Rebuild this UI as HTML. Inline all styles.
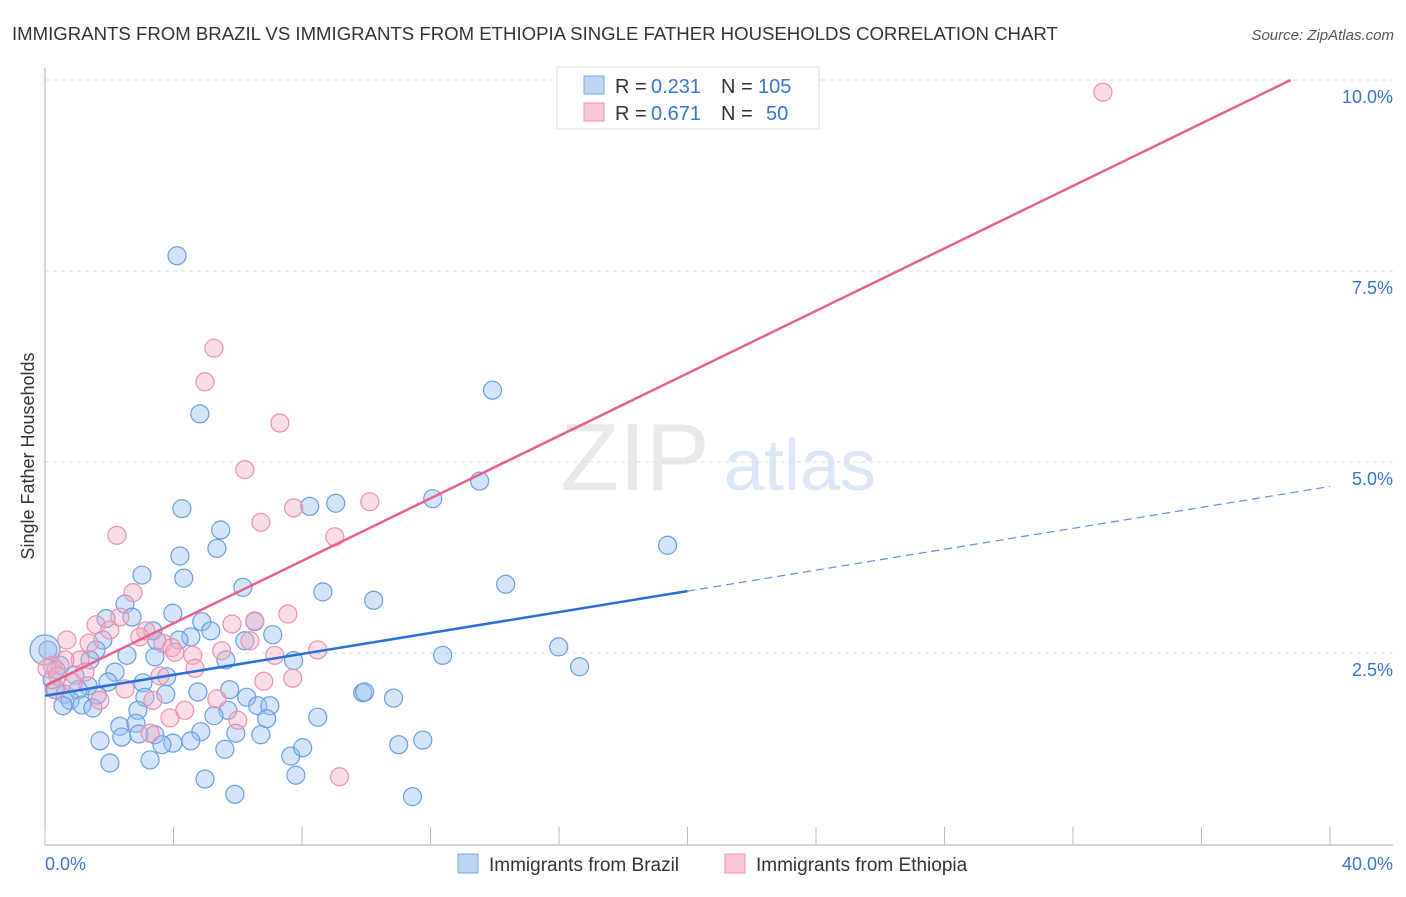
<!DOCTYPE html>
<html><head><meta charset="utf-8"><style>
body{margin:0;background:#fff;font-family:"Liberation Sans",sans-serif;}
svg text{font-family:"Liberation Sans",sans-serif;}
</style></head><body>
<svg id="chart" width="1406" height="892" xmlns="http://www.w3.org/2000/svg">
<text x="12" y="40" font-size="18.6" fill="#333">IMMIGRANTS FROM BRAZIL VS IMMIGRANTS FROM ETHIOPIA SINGLE FATHER HOUSEHOLDS CORRELATION CHART</text>
<text x="1394" y="40" font-size="15" fill="#555" text-anchor="end" font-style="italic">Source: ZipAtlas.com</text>
<text transform="translate(34,456) rotate(-90)" font-size="18" fill="#333" text-anchor="middle">Single Father Households</text>
<g><text x="635" y="490" font-size="96" fill="#e8e8e8" text-anchor="middle" font-family="Liberation Serif">ZIP</text><text x="800" y="490" font-size="72" fill="#dbe7f6" text-anchor="middle">atlas</text></g>
<g id="grid"></g><g id="axes"></g><g id="points"></g><g id="lines"></g>
<g>
<rect x="557" y="67" width="262" height="62" fill="#fff" stroke="#ddd"/>
<rect x="584" y="76" width="20" height="18" fill="#bcd5f5" stroke="#7aa7e3"/>
<rect x="584" y="103" width="20" height="18" fill="#f9c6d6" stroke="#eb97b3"/>
<text x="615" y="93" font-size="20" fill="#333">R =</text>
<text x="651" y="93" font-size="20" fill="#3a74d0">0.231</text>
<text x="721" y="93" font-size="20" fill="#333">N =</text>
<text x="758" y="93" font-size="20" fill="#3a74d0">105</text>
<text x="615" y="120" font-size="20" fill="#333">R =</text>
<text x="651" y="120" font-size="20" fill="#3a74d0">0.671</text>
<text x="721" y="120" font-size="20" fill="#333">N =</text>
<text x="766" y="120" font-size="20" fill="#3a74d0">50</text>
</g>
<g>
<rect x="458" y="854" width="20" height="19" fill="#bcd5f5" stroke="#7aa7e3"/>
<text x="489" y="871" font-size="19" fill="#333">Immigrants from Brazil</text>
<rect x="725" y="854" width="20" height="19" fill="#f9c6d6" stroke="#eb97b3"/>
<text x="756" y="871" font-size="19" fill="#333">Immigrants from Ethiopia</text>
</g>
</svg>
<script>
const yTicks=[2.5,5,7.5,10];
const yTickLabels=["2.5%","5.0%","7.5%","10.0%"];
const xTickVals=[0,4,8,12,16,20,24,28,32,36,40];
const brazilX=[4.11,4.82,13.93,13.53,12.07,9.05,8.24,4.26,5.47,5.35,4.20,4.32,3.02,6.16,8.65,10.23,14.34,19.38,2.49,3.98,2.71,4.88,5.16,3.36,4.54,4.17,3.48,1.90,1.80,1.59,2.55,3.42,5.63,6.22,7.09,6.53,7.74,12.38,15.99,16.64,2.18,1.40,0.09,0.47,0.93,1.34,1.96,3.05,3.79,4.76,5.75,3.76,3.11,6.28,9.89,9.95,10.85,0.31,0.62,1.03,1.62,0.78,1.15,1.49,0.56,2.89,5.69,6.62,7.00,5.26,6.90,8.49,2.33,2.83,3.42,4.85,5.94,6.72,2.39,1.71,2.92,3.98,3.64,4.54,5.60,7.65,8.02,11.01,11.76,3.27,2.02,4.98,7.81,5.91,11.44,0.00,0.22,0.34];
const brazilY=[7.70,5.63,5.94,4.75,4.52,4.46,4.42,4.39,4.11,3.87,3.77,3.48,3.52,3.36,3.30,3.19,3.40,3.91,3.14,3.02,2.97,2.91,2.79,2.79,2.71,2.67,2.66,2.95,2.67,2.54,2.47,2.45,2.41,2.66,2.74,2.91,2.40,2.47,2.58,2.32,2.25,2.41,2.54,2.34,2.21,2.07,2.12,2.11,2.19,1.99,2.02,1.96,1.92,1.92,1.98,1.99,1.91,2.02,1.96,2.02,1.95,1.88,1.82,1.78,1.81,1.75,1.75,1.81,1.81,1.68,1.64,1.66,1.54,1.58,1.43,1.47,1.45,1.43,1.40,1.35,1.44,1.32,1.30,1.35,1.24,1.15,1.26,1.30,1.36,1.10,1.06,0.85,0.90,0.65,0.62,2.54,2.15,2.28];
const ethX=[32.93,5.26,4.98,7.31,6.22,10.11,7.74,6.72,9.02,2.24,2.74,7.56,6.53,2.33,5.82,1.59,3.14,2.95,2.02,1.37,3.67,3.95,4.04,4.60,5.50,6.38,7.15,8.49,1.09,0.62,0.22,0.06,0.40,0.87,2.49,3.58,7.71,6.81,5.35,3.36,4.35,3.89,6.00,3.27,9.17,0.34,1.24,1.71,4.67,0.68];
const ethY=[9.84,6.49,6.05,5.51,4.90,4.48,4.40,4.21,4.02,4.04,3.29,3.01,2.92,2.97,2.88,2.87,2.79,2.71,2.80,2.63,2.63,2.57,2.51,2.47,2.53,2.66,2.47,2.54,2.41,2.41,2.34,2.30,2.20,2.11,2.03,2.20,2.17,2.13,1.90,1.88,1.75,1.65,1.62,1.45,0.88,2.02,2.25,1.88,2.30,2.67];
const brazilTrend=[1.94,0.0685];
const ethTrend=[2.07,0.2045];
const NS="http://www.w3.org/2000/svg";
const X=v=>45+v*32.125, Y=v=>844-v*76.4;
function mk(tag,attrs,parent){const e=document.createElementNS(NS,tag);for(const k in attrs)e.setAttribute(k,attrs[k]);document.getElementById(parent).appendChild(e);return e;}
yTicks.forEach((t,i)=>{
 const g=mk('line',{x1:45,x2:1393,y1:Y(t),y2:Y(t),stroke:'#ddd','stroke-dasharray':'4,4'},'grid');
 
 
 const l=mk('text',{x:1393,y:Y(t)+23,'font-size':18,fill:'#3a74d0','text-anchor':'end'},'grid');l.textContent=yTickLabels[i];
 
 
});
let a=mk('line',{x1:45,x2:45,y1:68,y2:845,stroke:'#aaa'},'axes');


a=mk('line',{x1:45,x2:1393,y1:845,y2:845,stroke:'#aaa'},'axes');


xTickVals.forEach(v=>{const t=mk('line',{x1:X(v),x2:X(v),y1:827,y2:845,stroke:'#bbb'},'axes');
 
 });
let xl=mk('text',{x:45,y:870,'font-size':18,fill:'#3a74d0'},'axes');xl.textContent='0.0%';


xl=mk('text',{x:1393,y:870,'font-size':18,fill:'#3a74d0','text-anchor':'end'},'axes');xl.textContent='40.0%';


brazilX.forEach((x,i)=>{const c=mk('circle',{cx:X(x),cy:Y(brazilY[i]),r:i==95?15:9,fill:'rgba(150,190,240,0.4)',stroke:'#6a9de0','stroke-width':1.2},'points');
 
 });
ethX.forEach((x,i)=>{const c=mk('circle',{cx:X(x),cy:Y(ethY[i]),r:9,fill:'rgba(245,170,195,0.4)',stroke:'#ea90b0','stroke-width':1.2},'points');
 
 });
let ln=mk('line',{x1:X(0),y1:Y(brazilTrend[0]),x2:X(20),y2:Y(brazilTrend[0]+20*brazilTrend[1]),stroke:'#2a6fd6','stroke-width':2.5},'lines');


ln=mk('line',{x1:X(20),y1:Y(brazilTrend[0]+20*brazilTrend[1]),x2:X(40),y2:Y(brazilTrend[0]+40*brazilTrend[1]),stroke:'#5a8fe0','stroke-width':1.2,'stroke-dasharray':'8,5'},'lines');


const xe=(10-ethTrend[0])/ethTrend[1];
ln=mk('line',{x1:X(0),y1:Y(ethTrend[0]),x2:X(xe),y2:Y(10),stroke:'#e8608f','stroke-width':2.5},'lines');


</script>
</body></html>
